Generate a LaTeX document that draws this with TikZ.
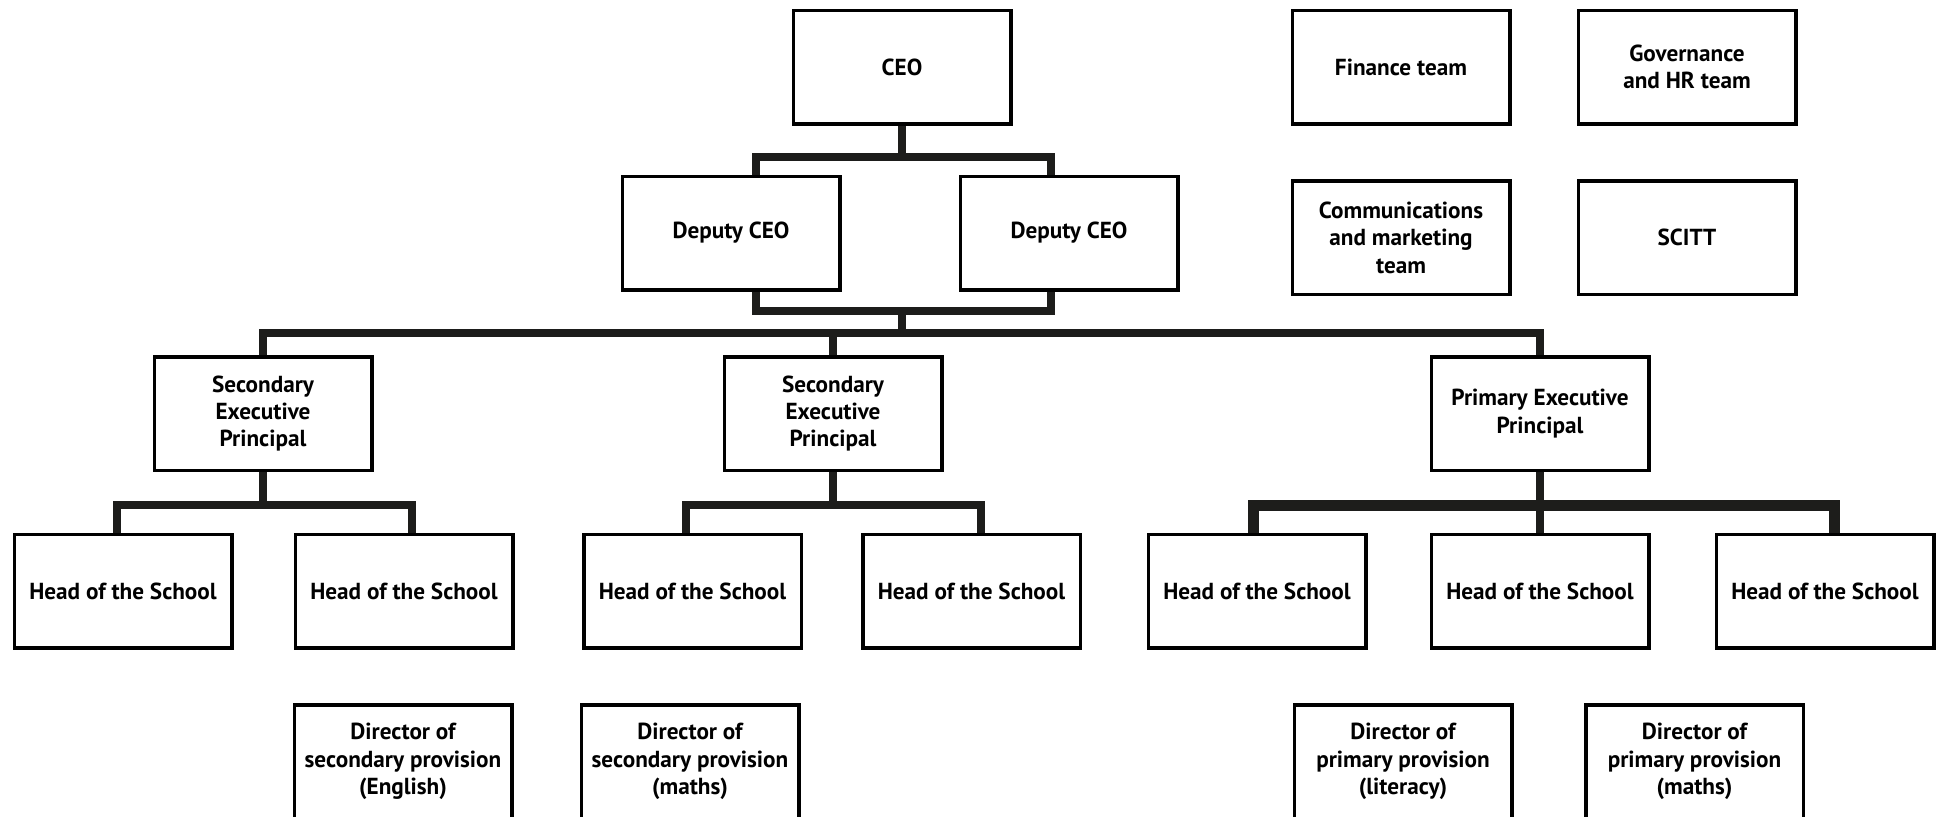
\documentclass[tikz,border=0pt]{standalone}
\usepackage{fontspec}
\setmainfont{PT Sans}
\usepackage{xcolor}
\usepackage{tikz}
\definecolor{ink}{HTML}{1D1D1B}
\tikzstyle{post} = [rectangle, 
minimum width=108.75pt, 
minimum height=56.75pt,
inner sep=0pt,
text centered, 
align=center,
line width=1.75pt,
draw=black, 
fill=white,
font=\fontsize{11.6pt}{13.7pt}\selectfont\bfseries]
\tikzstyle{link} = [line width=4pt, draw=ink]

\begin{document}
\begin{tikzpicture}[x=0.5pt, y=-0.5pt]
\useasboundingbox (0,0) rectangle (1937,816);
\clip (0,0) rectangle (1937,816);

\node (ceo) [post] at (902,67) {CEO};
\node (dep1) [post] at (731,233) {Deputy CEO};
\node (dep2) [post] at (1069,233) {Deputy CEO};
\node (fin) [post] at (1401,67) {Finance team};
\node (gov) [post] at (1687,67) {Governance\\and HR team};
\node (comm) [post] at (1401,237.5) {Communications\\and marketing\\team};
\node (scitt) [post] at (1687,237.5) {SCITT};

\node (sec1) [post] at (263,413.5) {Secondary\\Executive\\Principal};
\node (sec2) [post] at (833,413.5) {Secondary\\Executive\\Principal};
\node (prim) [post] at (1540,413.5) {Primary Executive\\Principal};

\node (head1) [post] at (123,591) {Head of the School};
\node (head2) [post] at (404,591) {Head of the School};
\node (head3) [post] at (692.5,591) {Head of the School};
\node (head4) [post] at (971.5,591) {Head of the School};
\node (head5) [post] at (1257,591) {Head of the School};
\node (head6) [post] at (1540,591) {Head of the School};
\node (head7) [post] at (1825,591) {Head of the School};

\node (dir1) [post] at (403,761.5) {Director of\\secondary provision\\(English)};
\node (dir2) [post] at (690,761.5) {Director of\\secondary provision\\(maths)};
\node (dir3) [post] at (1403,761.5) {Director of\\primary provision\\(literacy)};
\node (dir4) [post] at (1694.5,761.5) {Director of\\primary provision\\(maths)};

\coordinate (split) at (902,310);
\coordinate (bus) at (902,333);

\draw [link] (ceo.south) -- ++(0,31);
\draw [link] ([xshift=12.25pt]dep1.north) -- ++(0,-18) -| ([xshift=-9pt]dep2.north);
\draw [link] ([xshift=12.25pt]dep1.south) -- ++(0,19) -| ([xshift=-9pt]dep2.south);
\draw [link] (split) -- (bus);
\draw [link] (sec1.north) -- ++(0,-22) -| (prim.north);
\draw [link] (sec2.north) -- ++(0,-22);

\draw [link] (sec1.south) -- ++(0,33);
\draw [link] ([xshift=-3.25pt]head1.north) -- ++(0,-28) -| ([xshift=4pt]head2.north);
\draw [link] (sec2.south) -- ++(0,33);
\draw [link] ([xshift=-3.25pt]head3.north) -- ++(0,-28) -| ([xshift=4.5pt]head4.north);
\draw [link] (prim) -- (head6);
\draw [link, line width=5.5pt] ([xshift=-2pt]head5.north) -- ++(0,-27) -| ([xshift=4.5pt]head7.north);

\end{tikzpicture}
\end{document}
